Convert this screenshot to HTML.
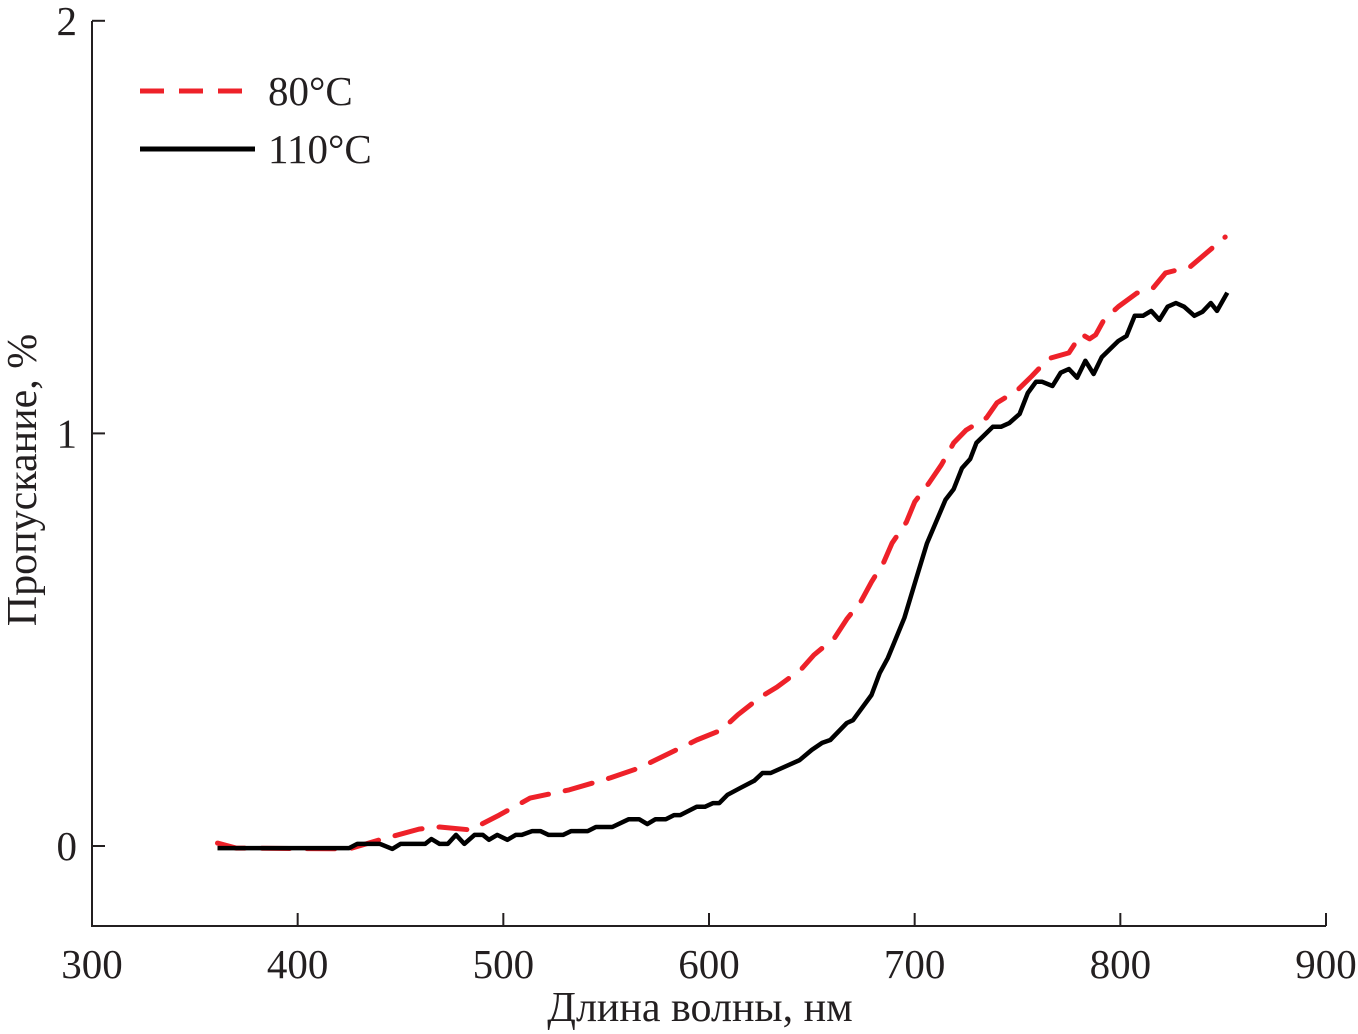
<!DOCTYPE html>
<html><head><meta charset="utf-8"><style>
html,body{margin:0;padding:0;background:#fff}
svg{display:block}
text{font-family:"Liberation Serif",serif;fill:#231f20}
</style></head><body>
<svg id="chart" width="1358" height="1034" viewBox="0 0 1358 1034" xmlns="http://www.w3.org/2000/svg">
<g id="axes"></g>
<g id="series"></g>
<g>
<line x1="140" y1="91" x2="255" y2="91" stroke="#ee2129" stroke-width="5" stroke-dasharray="24,15"/>
<text x="268" y="105" font-size="41">80°C</text>
<line x1="140" y1="149" x2="255" y2="149" stroke="#000" stroke-width="5"/>
<text x="268" y="163" font-size="41">110°C</text>
</g>
<text x="700" y="1021" font-size="42" text-anchor="middle">Длина волны, нм</text>
<text transform="translate(36,480) rotate(-90)" font-size="42" text-anchor="middle">Пропускание, %</text>
</svg>
<script>
const xTicks=[300,400,500,600,700,800,900];
const yTicks=[0,1,2];
const redX=[361,370,425,440,459,469,484,498,513,532,552,566,585,594,606,614,625,633,645,651,661,667,674,679,685,689,696,700,707,713,719,725,735,740,750,757,765,775,781,785,788,792,799,808,816,822,834,851];
const redY=[0.007,-0.005,-0.007,0.015,0.041,0.046,0.039,0.075,0.116,0.136,0.165,0.189,0.235,0.257,0.281,0.318,0.361,0.385,0.429,0.463,0.504,0.55,0.594,0.64,0.688,0.734,0.785,0.834,0.88,0.924,0.977,1.008,1.038,1.074,1.105,1.139,1.181,1.195,1.241,1.229,1.239,1.275,1.307,1.34,1.353,1.389,1.404,1.476];
const blackX=[361,425,429,440,446,450,462,465,469,473,477,481,486,490,493,497,502,506,509,514,518,522,529,533,541,545,553,561,566,570,574,579,583,586,594,598,602,605,609,615,622,626,630,644,650,655,659,667,670,679,683,687,695,701,706,715,719,723,727,730,738,742,746,751,755,759,762,767,771,775,779,783,787,791,799,803,807,811,815,819,823,827,831,836,840,844,847,852];
const blackY=[-0.005,-0.005,0.005,0.005,-0.007,0.005,0.005,0.017,0.005,0.005,0.027,0.005,0.027,0.027,0.015,0.027,0.015,0.027,0.027,0.036,0.036,0.027,0.027,0.036,0.036,0.046,0.046,0.065,0.065,0.053,0.065,0.065,0.075,0.075,0.095,0.095,0.104,0.104,0.124,0.14,0.158,0.177,0.177,0.208,0.233,0.25,0.257,0.298,0.305,0.366,0.419,0.456,0.553,0.652,0.734,0.839,0.865,0.916,0.938,0.977,1.016,1.016,1.025,1.047,1.098,1.125,1.125,1.115,1.147,1.156,1.135,1.176,1.144,1.185,1.224,1.236,1.285,1.285,1.297,1.275,1.307,1.316,1.307,1.285,1.295,1.316,1.297,1.341];
const NS='http://www.w3.org/2000/svg';
const X=v=>92+(v-300)*(1326-92)/600;
const Y=v=>846-v*412.6;
function mk(tag,attrs,parent){const e=document.createElementNS(NS,tag);for(const k in attrs)e.setAttribute(k,attrs[k]);parent.appendChild(e);return e;}
const axes=document.getElementById('axes');
let e=mk('path',{d:'M92,21 V926 H1326',fill:'none',stroke:'#231f20','stroke-width':2},axes);


xTicks.forEach(t=>{
 let l=mk('line',{x1:X(t),x2:X(t),y1:926,y2:913,stroke:'#231f20','stroke-width':2},axes);
 
 
 let tx=mk('text',{x:X(t),y:978,'font-size':41,'text-anchor':'middle'},axes);tx.textContent=t;
 
 
});
yTicks.forEach(t=>{
 let l=mk('line',{x1:92,x2:105,y1:Y(t),y2:Y(t),stroke:'#231f20','stroke-width':2},axes);
 
 
 let tx=mk('text',{x:77,y:Y(t)+14,'font-size':41,'text-anchor':'end'},axes);tx.textContent=t;
 
 
});
const series=document.getElementById('series');
const pts=(xs,ys)=>xs.map((x,i)=>X(x).toFixed(1)+','+Y(ys[i]).toFixed(1)).join(' ');
let r=mk('polyline',{points:pts(redX,redY),fill:'none',stroke:'#ee2129','stroke-width':5,'stroke-dasharray':'28,17','stroke-linecap':'round','stroke-linejoin':'round'},series);


let b=mk('polyline',{points:pts(blackX,blackY),fill:'none',stroke:'#000','stroke-width':4.5,'stroke-linejoin':'round'},series);


</script>
</body></html>
